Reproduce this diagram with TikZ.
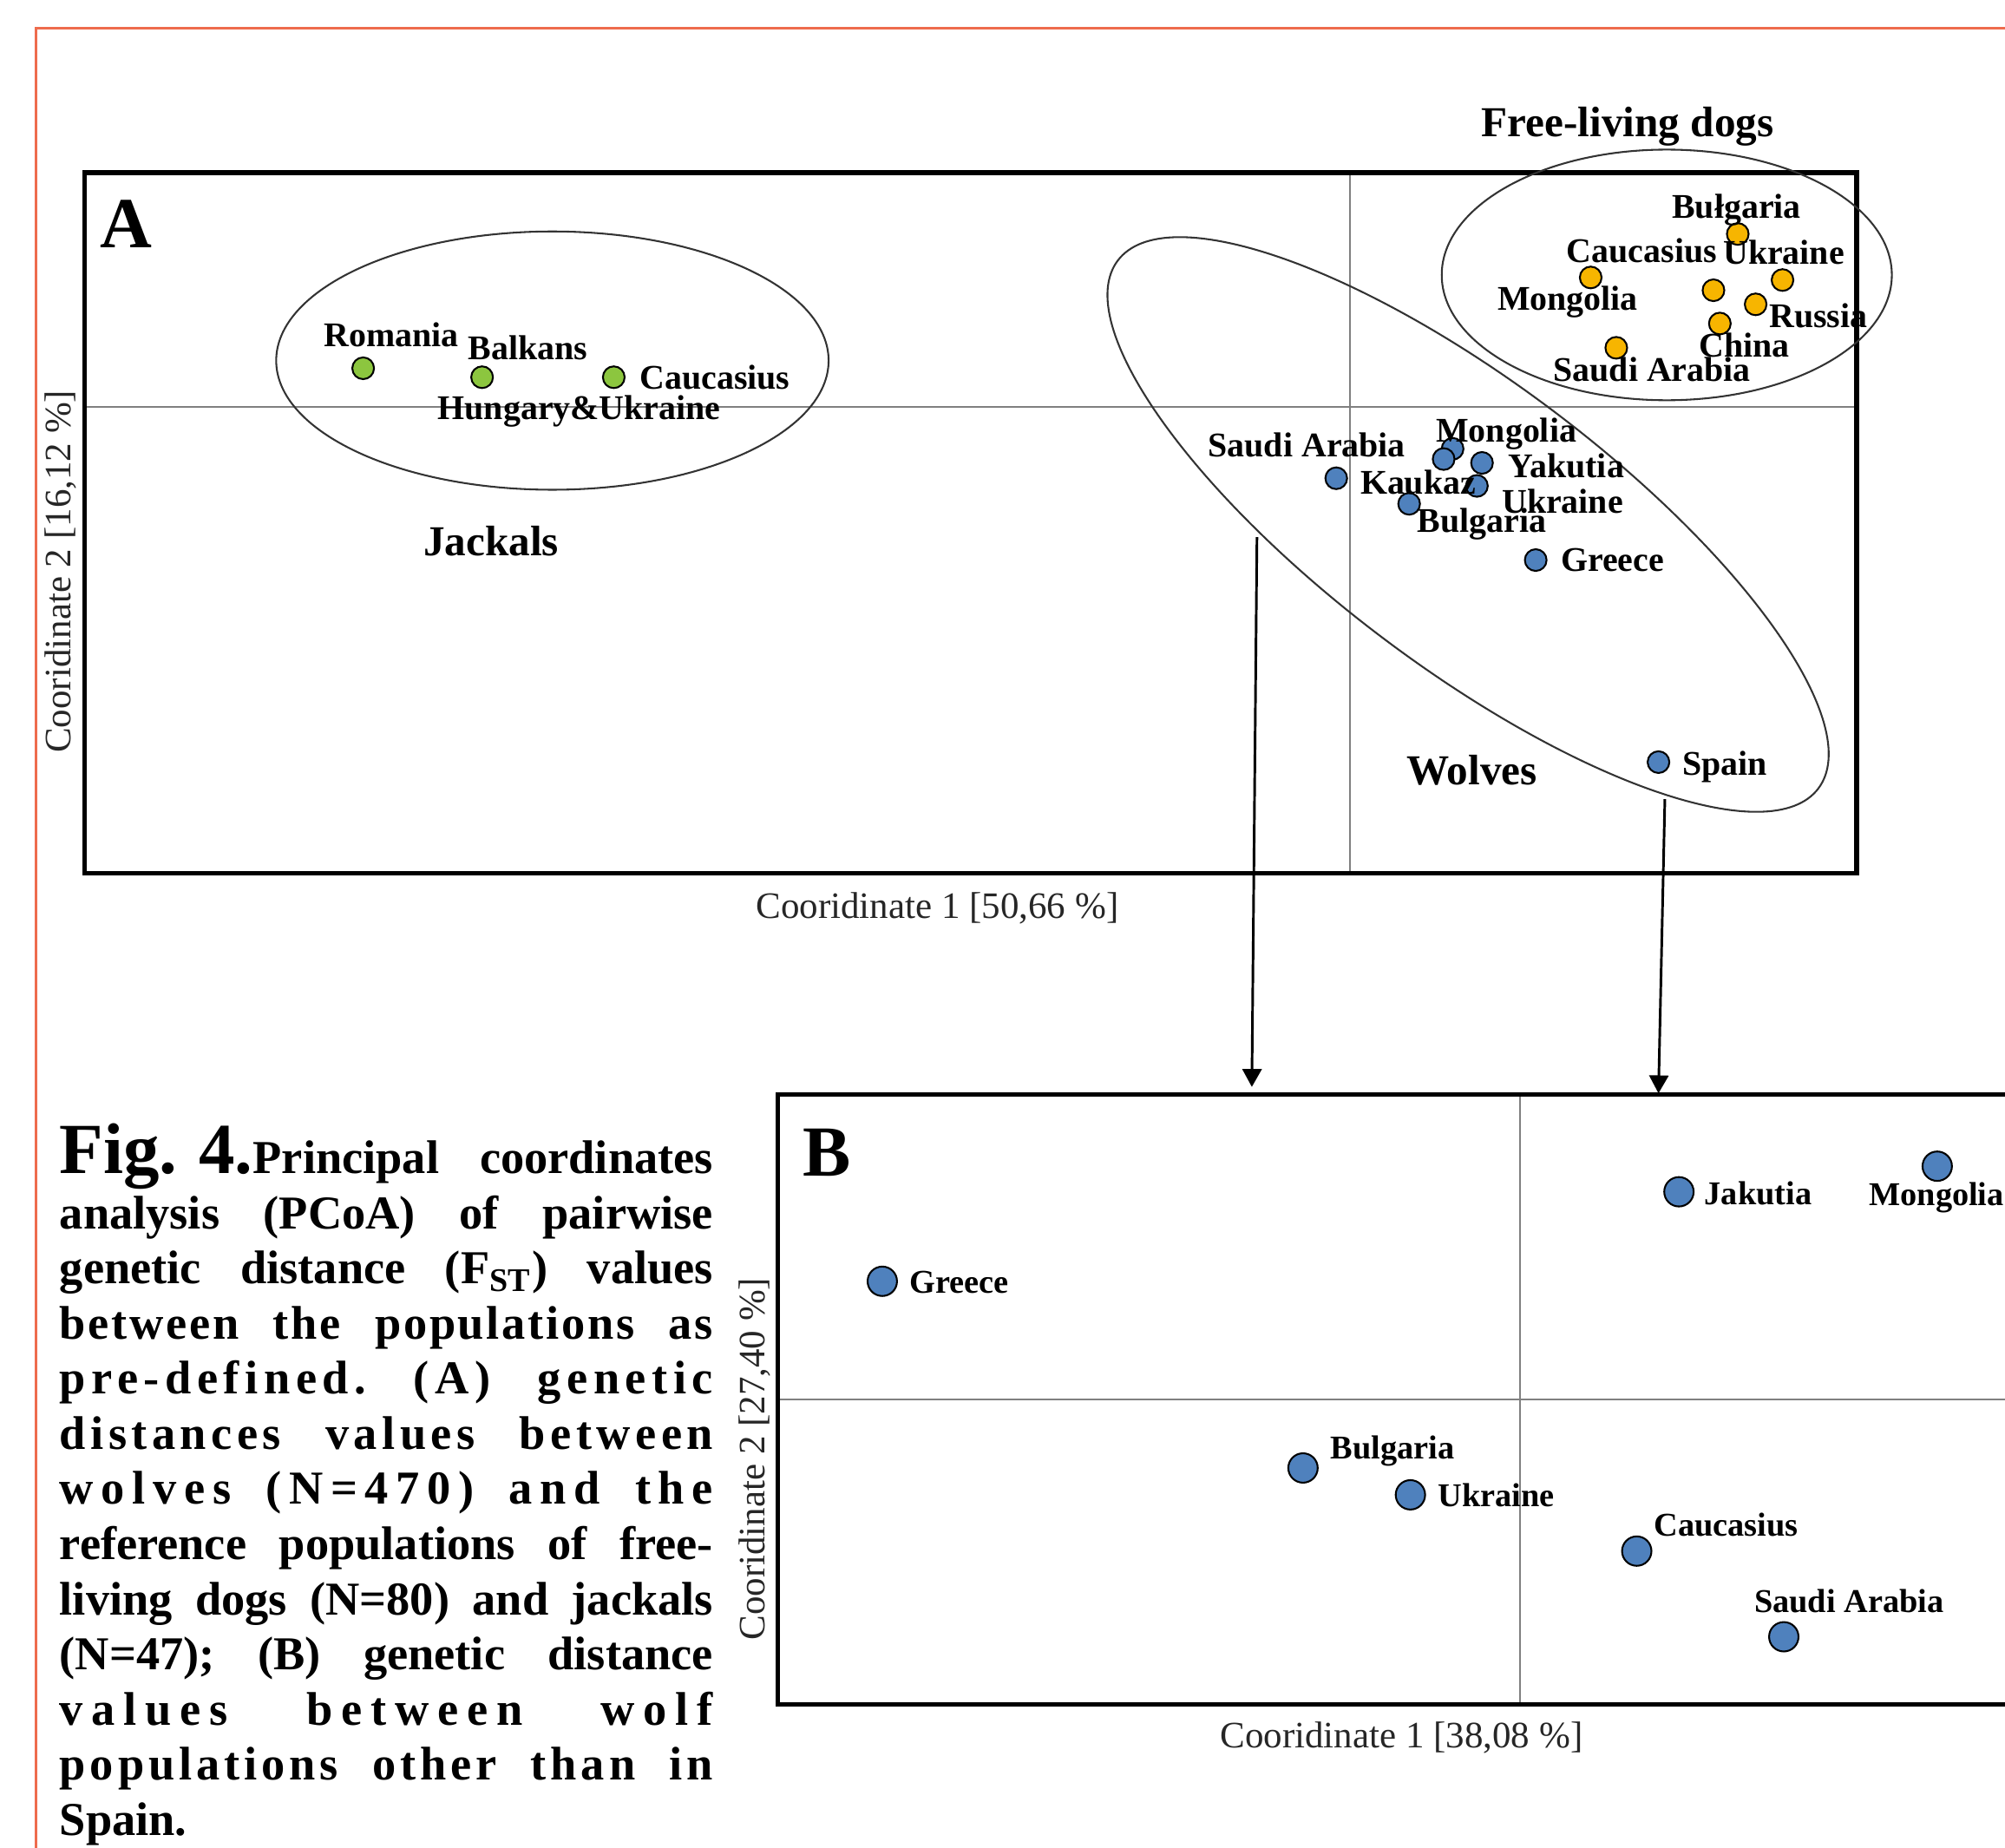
\documentclass[tikz,border=0pt]{standalone}
\usepackage{fontspec}
\setmainfont{Liberation Serif}
\usepackage{xcolor}
\usetikzlibrary{arrows.meta}

\definecolor{jackalgreen}{HTML}{8CC63F}
\definecolor{dogorange}{HTML}{F7B500}
\definecolor{wolfblue}{HTML}{4F81BD}
\definecolor{pageorange}{HTML}{EE6C4D}

\newlength{\capw}
\setlength{\capw}{51.1mm}
\newcommand{\capline}[1]{\noindent\makebox[\capw][s]{\spaceskip=0pt\xspaceskip=0pt #1}\par}
% caption line with letter spacing
\newcommand{\capls}[2]{\capline{\addfontfeature{LetterSpace=#1}#2}}

\begin{document}
\begin{tikzpicture}[x=0.1mm, y=-0.1mm,
    popdot/.style={circle, draw=black, line width=0.4pt, inner sep=0pt, minimum size=1.7mm},
    bdot/.style={popdot, minimum size=2.3mm},
    lbl/.style={font=\fontsize{7.7}{9}\selectfont\bfseries, inner sep=0pt, text depth=0pt},
    blbl/.style={font=\fontsize{7.4}{9}\selectfont\bfseries, inner sep=0pt, text depth=0pt},
    grp/.style={font=\fontsize{9.5}{11}\selectfont\bfseries, inner sep=0pt, text depth=0pt},
    axl/.style={font=\fontsize{8.3}{10}\selectfont, text=black!85, inner sep=0pt, text depth=0pt},
    panel/.style={font=\fontsize{16}{16}\selectfont\bfseries, inner sep=0pt, text depth=0pt},
    frm/.style={line width=0.35mm},
    ax/.style={gray, line width=0.4pt},
    grpline/.style={black!80, line width=0.4pt},
    arr/.style={line width=0.2mm, -{Triangle[width=1.5mm, length=1.4mm]}}]

    \useasboundingbox (0,0) rectangle (1568,1445);

    % Page margin
    \draw[pageorange, line width=0.5pt] (28,1445) -- (28,22) -- (1568,22);

    % Panel A: axes and frame
    \draw[ax] (1056,135) -- (1056,683);
    \draw[ax] (66,318) -- (1452,318);
    \draw[frm] (66,135) rectangle (1452,683);
    \node[panel] (pa) at (99,175) {A};
    \node[axl] (xa) at (733,708) {Cooridinate 1 [50,66 \%]};
    \node[axl, rotate=90] (ya) at (45,447) {Cooridinate 2 [16,12 \%]};

    % Groups
    \draw[grpline] (432,282) ellipse [x radius=216, y radius=101];
    \draw[grpline] (1303.5,215) ellipse [x radius=176, y radius=98];
    \coordinate (wcen) at (1148,410);
    \draw[grpline, rotate around={-37:(wcen)}] (wcen) ellipse [x radius=343, y radius=111];

    % Jackals
    \foreach \n/\x/\y in {jrom/284/288, jbal/377/295, jcau/480/295}
        \node[popdot, fill=jackalgreen] (\n) at (\x,\y) {};
    \node[lbl] (ljrom) at (306,262) {Romania};
    \node[lbl] (ljbal) at (413,272) {Balkans};
    \node[lbl] (ljcau) at (559,295) {Caucasius};
    \node[lbl] (ljhun) at (453,319) {Hungary\&Ukraine};
    \node[grp] (gjack) at (384,423) {Jackals};

    % Free-living dogs
    \foreach \n/\x/\y in {dbul/1359/183, dmon/1244/217, dcau/1340/227, dukr/1394/219,
                          drus/1373/238, dchi/1345/253, dsau/1264/272}
        \node[popdot, fill=dogorange] (\n) at (\x,\y) {};
    \node[lbl] (ldbul) at (1358,161) {Bułgaria};
    \node[lbl] (ldcau) at (1284,196) {Caucasius};
    \node[lbl] (ldukr) at (1395,197) {Ukraine};
    \node[lbl] (ldmon) at (1226,233) {Mongolia};
    \node[lbl] (ldrus) at (1422,247) {Russia};
    \node[lbl] (ldchi) at (1364,270) {China};
    \node[lbl] (ldsau) at (1292,289) {Saudi Arabia};
    \node[grp] (gdog) at (1273,95) {Free-living dogs};

    % Wolves
    \foreach \n/\x/\y in {wsau/1045/374, wmon/1136/351, wkau/1129/359, wyak/1159/362,
                          wukr/1155/380, wbul/1102/394, wgre/1201/438, wspa/1297/596}
        \node[popdot, fill=wolfblue] (\n) at (\x,\y) {};
    \node[lbl] (lwsau) at (1022,348) {Saudi Arabia};
    \node[lbl] (lwmon) at (1178,336) {Mongolia};
    \node[lbl] (lwyak) at (1225,364) {Yakutia};
    \node[lbl] (lwkau) at (1109,377) {Kaukaz};
    \node[lbl] (lwukr) at (1222,392) {Ukraine};
    \node[lbl] (lwbul) at (1159,407) {Bulgaria};
    \node[lbl] (lwgre) at (1261,438) {Greece};
    \node[lbl] (lwspa) at (1349,597) {Spain};
    \node[grp] (gwolf) at (1151,602) {Wolves};

    % Zoom arrows
    \coordinate (zl) at (983,420);
    \coordinate (zr) at (1302,625);
    \coordinate (bl) at (979,850);
    \coordinate (br) at (1297,855);
    \draw[arr] (zl) -- (bl);
    \draw[arr] (zr) -- (br);

    % Panel B: axes and frame
    \draw[ax] (1189,856) -- (1189,1333);
    \draw[ax] (608,1094.5) -- (1600,1094.5);
    \draw[frm] (608,856) rectangle (1600,1333);
    \node[panel] (pb) at (647,901) {B};
    \node[axl] (xb) at (1096,1357) {Cooridinate 1 [38,08 \%]};
    \node[axl, rotate=90] (yb) at (588,1141) {Cooridinate 2 [27,40 \%]};

    \foreach \n/\x/\y in {bgre/690/1002, bjak/1313/932, bmon/1515/912, bbul/1019/1148,
                          bukr/1103/1169, bcau/1280/1213, bsau/1395/1280}
        \node[bdot, fill=wolfblue] (\n) at (\x,\y) {};
    \node[blbl] (lbgre) at (750,1003) {Greece};
    \node[blbl] (lbjak) at (1375,933) {Jakutia};
    \node[blbl, anchor=west] (lbmon) at (1461,934) {Mongolia};
    \node[blbl] (lbbul) at (1089,1132) {Bulgaria};
    \node[blbl] (lbukr) at (1170,1169) {Ukraine};
    \node[blbl] (lbcau) at (1350,1192) {Caucasius};
    \node[blbl] (lbsau) at (1446,1252) {Saudi Arabia};

    % Caption
    \node[anchor=north west, inner sep=0pt, text width=\capw,
          font=\fontsize{10.5}{12.27}\selectfont\bfseries] (cap) at (46,878) {%
        \parskip=0pt\frenchspacing
        \capline{{\fontsize{16}{16}\selectfont Fig.\kern0.3em4.}Principal coordinates}
        \capline{analysis (PCoA) of pairwise}
        \capline{genetic distance (F\textsubscript{ST}) values}
        \capls{5}{between the populations as}
        \capls{12}{pre-defined. (A) genetic}
        \capls{10}{distances values between}
        \capls{16}{wolves (N=470) and the}
        \capline{reference populations of free-}
        \capline{living dogs (N=80) and jackals}
        \capline{(N=47); (B) genetic distance}
        \capls{18}{values between wolf}
        \capls{9}{populations other than in}
        \noindent Spain.};
\end{tikzpicture}
\end{document}
